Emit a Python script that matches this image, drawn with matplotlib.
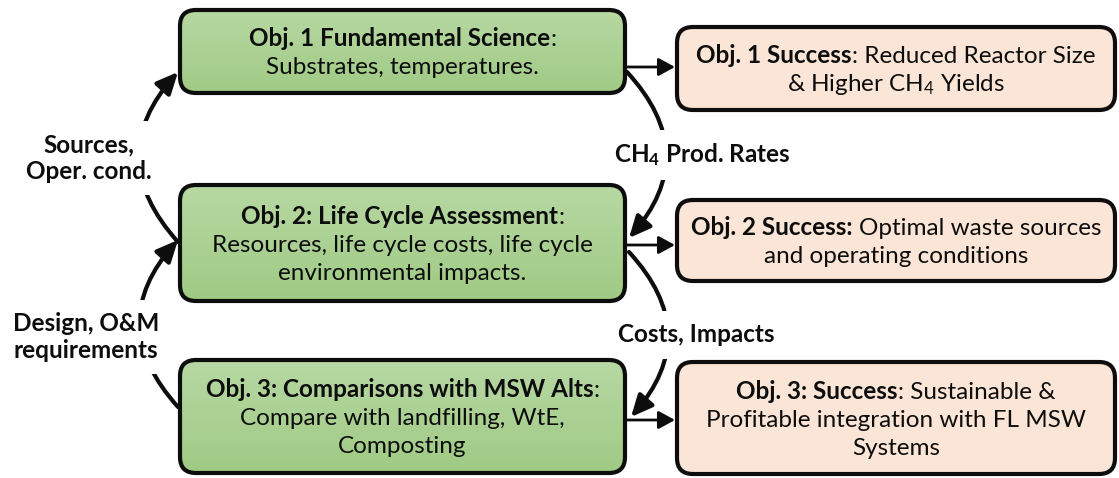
import matplotlib
matplotlib.use("Agg")
import matplotlib.pyplot as plt
import numpy as np
from matplotlib.patches import FancyBboxPatch, FancyArrowPatch
from matplotlib.colors import LinearSegmentedColormap

W, H = 1119, 478
FONT = "Lato"
SIZE = 17.5
LINE_STEP = 28

plt.rcParams.update({
    "font.family": [FONT, "DejaVu Sans"],
    "mathtext.fontset": "custom",
    "mathtext.rm": FONT,
    "mathtext.bf": f"{FONT}:bold",
    "mathtext.it": f"{FONT}:italic",
})

# box texts: each line is a list of (text, bold) pieces
GREEN_TEXT = [
    [[("Obj. 1 Fundamental Science", True), (":", False)],
     [("Substrates, temperatures.", False)]],
    [[("Obj. 2: Life Cycle Assessment", True), (":", False)],
     [("Resources, life cycle costs, life cycle", False)],
     [("environmental impacts.", False)]],
    [[("Obj. 3: Comparisons with MSW Alts", True), (":", False)],
     [("Compare with landfilling, WtE,", False)],
     [("Composting", False)]],
]
PEACH_TEXT = [
    [[("Obj. 1 Success", True), (": Reduced Reactor Size", False)],
     [("& Higher CH$_4$ Yields", False)]],
    [[("Obj. 2 Success:", True), (" Optimal waste sources", False)],
     [("and operating conditions", False)]],
    [[("Obj. 3: Success", True), (": Sustainable &", False)],
     [("Profitable integration with FL MSW", False)],
     [("Systems", False)]],
]
LEFT_LABELS = ["Sources,\nOper. cond.", "Design, O&M\nrequirements"]
RIGHT_LABELS = [r"CH$_\mathbf{4}$ Prod. Rates", "Costs, Impacts"]

# layout (pixels, y down)
GREEN_X = (180, 625)
GREEN_Y = [(10, 93), (185, 301), (360, 473)]
PEACH_X = (677, 1115)
PEACH_Y = [(27, 110), (200, 281), (362, 474)]
LINK_Y = [67, 245, 420]
LEFT_ARCS = [((178, 242), (178, 72)), ((178, 407), (178, 240))]
RIGHT_ARCS = [((627, 72), (629, 238)), ((629, 252), (631, 417))]
LEFT_LABEL_POS = [(89, 158), (86, 337)]
RIGHT_LABEL_POS = [(614, 155), (618, 335)]

GREEN_TOP, GREEN_BOTTOM = "#b7d8a3", "#9fca84"
PEACH = "#fbe5d6"
INK = "#0d0d0d"


def draw_box(ax, x, y, face=None):
    patch = FancyBboxPatch((x[0], y[0]), x[1] - x[0], y[1] - y[0],
                           boxstyle="round,pad=0,rounding_size=16",
                           facecolor=face if face else "none", edgecolor=INK,
                           linewidth=3, zorder=3)
    ax.add_patch(patch)
    if face is None:
        cmap = LinearSegmentedColormap.from_list("g", [GREEN_TOP, GREEN_BOTTOM])
        grad = np.linspace(0, 1, 256).reshape(-1, 1)
        im = ax.imshow(grad, cmap=cmap, aspect="auto", extent=[x[0], x[1], y[1], y[0]],
                       zorder=2.9, interpolation="bilinear")
        im.set_clip_path(patch)
    return patch


def text_width(ax, renderer, s, bold):
    t = ax.text(0, 0, s, fontsize=SIZE, fontweight="bold" if bold else "normal")
    w = t.get_window_extent(renderer).width
    t.remove()
    return w


def draw_lines(ax, renderer, cx, cy, lines):
    n = len(lines)
    for i, line in enumerate(lines):
        base = cy + (i - (n - 1) / 2) * LINE_STEP + 0.36 * SIZE * 100 / 72
        parts = []
        for j, (s, bold) in enumerate(line):
            gap = 0.0
            if j > 0 and (s.startswith(" ") or line[j - 1][0].endswith(" ")):
                gap = text_width(ax, renderer, "x x", bold) - text_width(ax, renderer, "xx", bold)
            parts.append((s.strip(), bold, gap, text_width(ax, renderer, s.strip(), bold)))
        total = sum(g + w for _, _, g, w in parts)
        x = cx - total / 2
        for s, bold, gap, w in parts:
            x += gap
            ax.text(x, base, s, fontsize=SIZE, fontweight="bold" if bold else "normal",
                    ha="left", va="baseline", color=INK, zorder=4)
            x += w


fig = plt.figure(figsize=(W / 100, H / 100), dpi=100)
ax = fig.add_axes([0, 0, 1, 1])
ax.set_xlim(0, W)
ax.set_ylim(H, 0)
ax.axis("off")
renderer = fig.canvas.get_renderer()

for y, lines in zip(GREEN_Y, GREEN_TEXT):
    draw_box(ax, GREEN_X, y)
    draw_lines(ax, renderer, sum(GREEN_X) / 2, sum(y) / 2, lines)

for y, lines in zip(PEACH_Y, PEACH_TEXT):
    draw_box(ax, PEACH_X, y, face=PEACH)
    draw_lines(ax, renderer, sum(PEACH_X) / 2, sum(y) / 2, lines)

for y in LINK_Y:
    ax.add_patch(FancyArrowPatch((GREEN_X[1] + 2, y), (PEACH_X[0] - 2, y),
                                 arrowstyle="-|>,head_length=0.55,head_width=0.3",
                                 mutation_scale=18, linewidth=2, color=INK,
                                 shrinkA=0, shrinkB=0, zorder=2))

for a, b in LEFT_ARCS + RIGHT_ARCS:
    ax.add_patch(FancyArrowPatch(a, b, connectionstyle="arc3,rad=-0.45",
                                 arrowstyle="-|>,head_length=0.65,head_width=0.3",
                                 mutation_scale=20, linewidth=3, color=INK,
                                 shrinkA=0, shrinkB=0, zorder=1))

box_style = dict(boxstyle="square,pad=0.5", facecolor="white", edgecolor="none")
for (x, y), s in zip(LEFT_LABEL_POS, LEFT_LABELS):
    ax.text(x, y, s, fontsize=SIZE, fontweight="bold", ha="center", va="center",
            color=INK, linespacing=1.2, bbox=box_style, zorder=2)
for (x, y), s in zip(RIGHT_LABEL_POS, RIGHT_LABELS):
    ax.text(x, y, s, fontsize=SIZE, fontweight="bold", ha="left", va="center",
            color=INK, bbox=box_style, zorder=2)

fig.savefig("out.png", dpi=100)
